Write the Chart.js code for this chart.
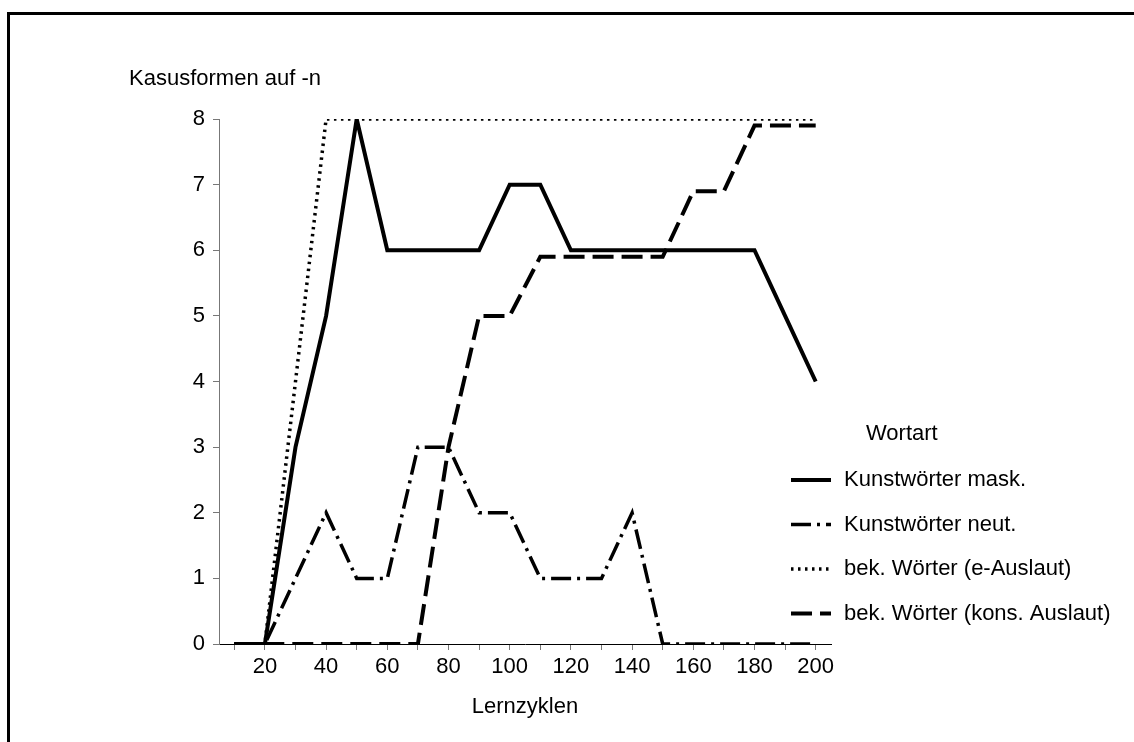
<!DOCTYPE html>
<html>
<head>
<meta charset="utf-8">
<script src="https://cdn.jsdelivr.net/npm/chart.js@4"></script>
<style>
  body { margin: 0; background: #fff; overflow: hidden; }
  #frame { position: absolute; left: 7px; top: 12px; width: 1300px; height: 900px; border: 3px solid #000; }
  #c { position: absolute; left: 0; top: 0; }
</style>
</head>
<body>
<div id="frame"></div>
<canvas id="c" width="1134" height="742"></canvas>
<script>
// x categories (Lernzyklen)
var cycles = [10, 20, 30, 40, 50, 60, 70, 80, 90, 100, 110, 120, 130, 140, 150, 160, 170, 180, 190, 200];

// series values
var maskWords  = [0, 0, 3, 5, 8, 6, 6, 6, 6, 7, 7, 6, 6, 6, 6, 6, 6, 6, 5, 4];
var neutWords  = [0, 0, 1, 2, 1, 1, 3, 3, 2, 2, 1, 1, 1, 2, 0, 0, 0, 0, 0, 0];
var eWords     = [0, 0, 4, 8, 8, 8, 8, 8, 8, 8, 8, 8, 8, 8, 8, 8, 8, 8, 8, 8];
var konsWords  = [0, 0, 0, 0, 0, 0, 0, 3, 5, 5, 5.9, 5.9, 5.9, 5.9, 5.9, 6.9, 6.9, 7.9, 7.9, 7.9];

var seriesNames = ['Kunstwörter mask.', 'Kunstwörter neut.', 'bek. Wörter (e-Auslaut)', 'bek. Wörter (kons. Auslaut)'];
var yTicks = [0, 1, 2, 3, 4, 5, 6, 7, 8];

var yTitle = 'Kasusformen auf -n';
var xTitle = 'Lernzyklen';
var legendTitle = 'Wortart';

var font = '"Liberation Sans", Arial, sans-serif';
var fontSize = 22;

// y title and legend drawn by hand
var extraText = {
  id: 'extraText',
  afterDraw: function(chart) {
    var ctx = chart.ctx;
    var a = chart.chartArea;
    ctx.save();
    ctx.font = fontSize + 'px ' + font;
    ctx.fillStyle = '#000';
    ctx.textBaseline = 'middle';
    ctx.textAlign = 'left';
    ctx.fillText(yTitle, 129, 79);
    ctx.fillText(legendTitle, 866, 434);
    chart.data.datasets.forEach(function(ds, i) {
      var y = 480 + i * 44.5;
      ctx.beginPath();
      ctx.setLineDash(ds.borderDash || []);
      ctx.lineWidth = ds.borderWidth;
      ctx.strokeStyle = ds.borderColor;
      ctx.moveTo(a.right - 40, y);
      ctx.lineTo(a.right, y);
      ctx.stroke();
      ctx.setLineDash([]);
      ctx.fillText(ds.label, a.right + 13, y);
    });
    ctx.restore();
  }
};

var ctx = document.getElementById('c').getContext('2d');
var chart = new Chart(ctx, {
  type: 'line',
  data: {
    labels: cycles,
    datasets: [
      { label: seriesNames[0], data: maskWords, borderColor: '#000', borderWidth: 4, borderDash: [] },
      { label: seriesNames[1], data: neutWords, borderColor: '#000', borderWidth: 3.5, borderDash: [20, 6, 3, 6] },
      { label: seriesNames[2], data: eWords, borderColor: '#000', borderWidth: 3.5, borderDash: [2.5, 4.5] },
      { label: seriesNames[3], data: konsWords, borderColor: '#000', borderWidth: 4, borderDash: [21, 8] }
    ]
  },
  options: {
    responsive: false,
    animation: false,
    layout: { padding: { left: 180, right: 303, top: 119, bottom: 22 } },
    elements: {
      line: { tension: 0, borderCapStyle: 'butt', borderJoinStyle: 'miter' },
      point: { radius: 0 }
    },
    plugins: {
      legend: { display: false },
      tooltip: { enabled: false }
    },
    scales: {
      x: {
        type: 'category',
        offset: true,
        afterFit: function(s) { s.height = 76; },
        grid: { drawOnChartArea: false, offset: false, color: '#777', tickLength: 6 },
        border: { color: '#000', width: 1 },
        ticks: {
          autoSkip: false, maxRotation: 0, color: '#000', padding: 4,
          font: { size: fontSize, family: font },
          callback: function(v, i) { return cycles[i] % 20 === 0 ? cycles[i] : ''; }
        },
        title: { display: true, text: xTitle, color: '#000', font: { size: fontSize, family: font }, padding: { top: 4, bottom: 0 } }
      },
      y: {
        min: 0, max: 8,
        afterFit: function(s) { s.width = 39; },
        afterBuildTicks: function(s) { s.ticks = yTicks.map(function(v) { return { value: v }; }); },
        grid: { drawOnChartArea: false, color: '#777', tickLength: 6 },
        border: { color: '#777', width: 1 },
        ticks: { color: '#000', padding: 8, font: { size: fontSize, family: font } }
      }
    }
  },
  plugins: [extraText]
});
</script>
</body>
</html>
